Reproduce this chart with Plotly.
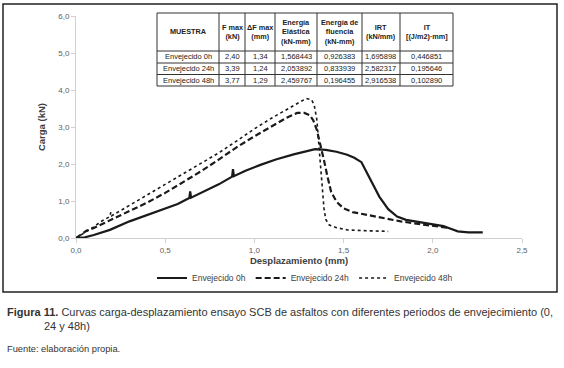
import plotly.graph_objects as go

# ---------------- data ----------------
x_0h = [0, 0.05, 0.10, 0.19, 0.30, 0.36, 0.45, 0.57, 0.635, 0.64, 0.645, 0.70, 0.80, 0.875, 0.88, 0.885,
        0.95, 1.03, 1.12, 1.22, 1.30, 1.34, 1.40, 1.46, 1.52, 1.56, 1.60, 1.65, 1.70, 1.75, 1.80, 1.85,
        1.91, 2.00, 2.06, 2.10, 2.14, 2.20, 2.28]
y_0h = [0, 0.02, 0.08, 0.22, 0.45, 0.55, 0.72, 0.92, 1.08, 1.26, 1.09, 1.22, 1.45, 1.66, 1.86, 1.67,
        1.82, 1.97, 2.12, 2.26, 2.36, 2.40, 2.38, 2.33, 2.25, 2.17, 2.05, 1.60, 1.12, 0.78, 0.58, 0.49,
        0.44, 0.36, 0.32, 0.25, 0.18, 0.15, 0.15]

x_24h = [0, 0.03, 0.06, 0.10, 0.20, 0.30, 0.40, 0.50, 0.60, 0.70, 0.80, 0.90, 1.00, 1.10, 1.18, 1.24,
         1.28, 1.31, 1.33, 1.35, 1.37, 1.39, 1.41, 1.43, 1.46, 1.50, 1.55, 1.63, 1.72, 1.82, 1.92, 2.01, 2.08]
y_24h = [0, 0.10, 0.20, 0.27, 0.50, 0.72, 0.96, 1.22, 1.50, 1.80, 2.12, 2.45, 2.75, 3.03, 3.25, 3.38,
         3.38, 3.32, 3.18, 2.92, 2.55, 2.10, 1.65, 1.25, 0.98, 0.80, 0.70, 0.62, 0.53, 0.45, 0.38, 0.32, 0.28]

x_48h = [0, 0.03, 0.06, 0.10, 0.135, 0.19, 0.195, 0.20, 0.30, 0.40, 0.50, 0.60, 0.70, 0.80, 0.90, 1.00,
         1.10, 1.20, 1.26, 1.29, 1.32, 1.335, 1.35, 1.36, 1.37, 1.38, 1.39, 1.40, 1.42, 1.46, 1.52, 1.60,
         1.70, 1.75]
y_48h = [0, 0.08, 0.18, 0.30, 0.43, 0.58, 0.70, 0.60, 0.88, 1.16, 1.44, 1.73, 2.02, 2.30, 2.62, 2.95,
         3.25, 3.52, 3.70, 3.77, 3.74, 3.60, 3.20, 2.60, 2.00, 1.40, 0.80, 0.50, 0.35, 0.28, 0.22, 0.20,
         0.20, 0.18]

series_names = ["Envejecido 0h", "Envejecido 24h", "Envejecido 48h"]

table_header = ["MUESTRA", "F max<br>(kN)", "ΔF max<br>(mm)", "Energía<br>Elástica<br>(kN-mm)",
                "Energía de<br>fluencia<br>(kN-mm)", "IRT<br>(kN/mm)", "IT<br>[(J/m2)·mm]"]
col_muestra = ["Envejecido 0h", "Envejecido 24h", "Envejecido 48h"]
col_fmax = ["2,40", "3,39", "3,77"]
col_dfmax = ["1,34", "1,24", "1,29"]
col_eelast = ["1,568443", "2,053892", "2,459767"]
col_efluen = ["0,926383", "0,833939", "0,196455"]
col_irt = ["1,695898", "2,582317", "2,916538"]
col_it = ["0,446851", "0,195646", "0,102890"]

# ---------------- figure ----------------
W, H = 564, 368
def px(x):
    return x / W
def py(y):
    return 1 - y / H

line_col = "#1a1a1a"
fig = go.Figure()
fig.add_trace(go.Scatter(x=x_0h, y=y_0h, mode="lines", name=series_names[0],
                         line=dict(color=line_col, width=2.2, dash="solid")))
fig.add_trace(go.Scatter(x=x_24h, y=y_24h, mode="lines", name=series_names[1],
                         line=dict(color=line_col, width=2.2, dash="6px,3px")))
fig.add_trace(go.Scatter(x=x_48h, y=y_48h, mode="lines", name=series_names[2],
                         line=dict(color=line_col, width=1.6, dash="dot")))

axis_common = dict(showgrid=False, zeroline=False, showline=True, linecolor="#d0d0d0", linewidth=1,
                   ticks="outside", ticklen=4, tickcolor="#d0d0d0", automargin=False,
                   tickfont=dict(family="Liberation Sans, Arial", size=8, color="#606060"),
                   tickformat=".1f")

fig.update_layout(
    template="none",
    width=W, height=H, autosize=False,
    margin=dict(l=0, r=0, t=0, b=0, pad=0),
    paper_bgcolor="white", plot_bgcolor="white",
    separators=",.",
    font=dict(family="Liberation Sans, Arial", color="#404040"),
    xaxis=dict(domain=[px(76), px(522)], range=[0, 2.5], dtick=0.5, tick0=0,
               title=dict(text="<b>Desplazamiento (mm)</b>", font=dict(size=9.5, color="#404040"),
                          standoff=0),
               **axis_common),
    yaxis=dict(domain=[py(238), py(16)], range=[0, 6], dtick=1, tick0=0,
               title=dict(text="<b>Carga (kN)</b>", font=dict(size=9.5, color="#404040"),
                          standoff=10),
               **axis_common),
    legend=dict(orientation="h", x=px(305), xanchor="center", y=py(278), yanchor="middle",
                font=dict(size=8.5, color="#404040"), bgcolor="rgba(0,0,0,0)",
                itemwidth=30, tracegroupgap=0),
    showlegend=True,
)

# ---------------- table (grid + text) ----------------
col_edges = [157, 219, 245, 275, 317, 362, 400, 453]
row_edges = [13, 51, 63, 74.5, 86]
grid_col = "#333"
for xe in col_edges:
    fig.add_shape(type="line", xref="paper", yref="paper", x0=px(xe), x1=px(xe),
                  y0=py(row_edges[0]), y1=py(row_edges[-1]), line=dict(color=grid_col, width=1))
for ye in row_edges:
    fig.add_shape(type="line", xref="paper", yref="paper", x0=px(col_edges[0]), x1=px(col_edges[-1]),
                  y0=py(ye), y1=py(ye), line=dict(color=grid_col, width=1))

tfont = "Liberation Sans, Arial"
columns = [col_muestra, col_fmax, col_dfmax, col_eelast, col_efluen, col_irt, col_it]
for j, head in enumerate(table_header):
    cx = (col_edges[j] + col_edges[j + 1]) / 2
    cy = (row_edges[0] + row_edges[1]) / 2
    fig.add_annotation(xref="paper", yref="paper", x=px(cx), y=py(cy), xanchor="center", yanchor="middle",
                       showarrow=False, text="<b>" + head + "</b>", align="center",
                       font=dict(family=tfont, size=7.3, color="#222"))
    for i, val in enumerate(columns[j]):
        cy = (row_edges[i + 1] + row_edges[i + 2]) / 2
        fig.add_annotation(xref="paper", yref="paper", x=px(cx), y=py(cy), xanchor="center",
                           yanchor="middle", showarrow=False, text=val,
                           font=dict(family=tfont, size=7.5, color="#222"))

# outer frame
fig.add_shape(type="rect", xref="paper", yref="paper",
              x0=px(3), x1=px(557), y0=py(292), y1=py(4),
              line=dict(color="#222", width=1.5), layer="above")

cap_font = dict(family="Liberation Sans, Arial", size=11, color="#333")
fig.add_annotation(xref="paper", yref="paper", x=px(5), y=py(312), xanchor="left", yanchor="middle",
                   showarrow=False, font=cap_font,
                   text="<b>Figura 11.</b> Curvas carga-desplazamiento ensayo SCB de asfaltos con diferentes periodos de envejecimiento (0,")
fig.add_annotation(xref="paper", yref="paper", x=px(42), y=py(326), xanchor="left", yanchor="middle",
                   showarrow=False, font=cap_font, text="24 y 48h)")
fig.add_annotation(xref="paper", yref="paper", x=px(5), y=py(349), xanchor="left", yanchor="middle",
                   showarrow=False, font=dict(family="Liberation Sans, Arial", size=9.3, color="#333"),
                   text="Fuente: elaboración propia.")

fig.write_html("out.html", config={"displayModeBar": False},
               post_script="document.body.style.margin='0';document.body.style.overflow='hidden';")
